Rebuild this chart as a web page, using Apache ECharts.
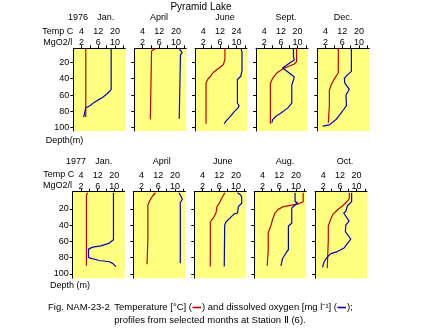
<!DOCTYPE html>
<html><head><meta charset="utf-8">
<script src="https://cdn.jsdelivr.net/npm/echarts@6/dist/echarts.min.js"></script>
<style>html,body{margin:0;padding:0;background:#fff}#c{width:422px;height:333px}</style>
</head><body><div id="c"></div>
<script>
// ---- data: [value, depth(m)] ----
const months1976 = ['Jan.', 'April', 'June', 'Sept.', 'Dec.'];
const months1977 = ['Jan.', 'April', 'June', 'Aug.', 'Oct.'];
const tempTicks = [4, 12, 20];
const tempTickLabels = ['4', '12', '20'];
const tempTickLabelsJune1976 = ['4', '12', '24'];
const o2Ticks = [2, 6, 10];
const o2MinorTicks = [2, 4, 6, 8, 10, 12];
const depthTicks = [20, 40, 60, 80, 100];

const tempJan1976 = [[6,3],[6,87]];
const o2Jan1976 = [[9.1,3],[9.1,53],[8.6,56],[8.0,59],[7.0,63],[6.3,65],[5.0,69],[4.0,73],[3.0,75.5],[2.6,77],[2.5,87]];
const tempApr1976 = [[10.1,3],[9.5,4.5],[8.3,6],[7.7,7],[7.7,90]];
const o2Apr1976 = [[10.8,3],[11.2,5],[11.5,8],[11.1,10.5],[10.8,12.5],[10.8,89]];
const tempJun1976 = [[14.4,3],[14.4,16],[13.6,17],[13.6,23],[12,26],[10,30],[8.5,33],[7.5,37],[6.3,40],[5.3,45],[5.3,95]];
const o2Jun1976 = [[11.1,3],[11.3,8],[11.3,30],[11.0,37],[10.2,41],[10.2,70],[10.6,73],[10.3,76],[9.5,80],[8.5,86],[7.6,91],[7.0,95]];
const tempSep1976 = [[19.5,3],[19.5,19],[18.4,22],[15.5,25],[12.8,28],[10,33],[8,39.5],[6.9,46],[6.9,95]];
const o2Sep1976 = [[9.0,3],[9.0,13],[9.2,17],[8.0,21],[6.4,27],[7.2,30],[8.0,33],[9.2,38],[8.6,48],[8.6,70],[7.6,76],[6.0,82],[4.8,86],[4.0,90],[3.8,94]];
const tempDec1976 = [[10.1,3],[10.1,33],[9,37],[7.8,42],[6.6,48],[5.8,54],[5.8,73],[5.3,75],[5.3,94]];
const o2Dec1976 = [[8.2,3],[8.2,31],[7.3,35],[6.5,39.5],[6.6,45],[7.7,53],[6.9,60],[7.0,73],[6.3,78],[5.7,82],[4.5,90],[2.9,96.5],[1.3,98]];

const tempJan1977 = [[7.2,0],[6.6,3],[6.6,90]];
const o2Jan1977 = [[9.8,0],[9.8,58],[8.8,62],[6.8,65.5],[4.8,67],[3.8,69.5],[3.8,80],[4.2,81.5],[6.4,83.5],[8.8,85],[9.6,87],[10.4,91]];
const tempApr1977 = [[10.6,0],[10.1,1.5],[9.3,4],[8.5,7],[7.7,11],[7.0,15],[7.0,58],[6.6,60],[6.6,88]];
const o2Apr1977 = [[11.0,0],[11.4,4],[11.8,8],[11.3,12],[11.3,87]];
const tempJun1977 = [[14.7,0],[13.1,7],[12,13],[10.9,17],[10.4,25],[9.6,29],[8.5,33],[7.7,36],[7.7,91]];
const o2Jun1977 = [[10.4,0],[11.2,3],[11.4,6],[11.4,13],[10.6,17],[10.4,25],[9.6,26],[8.8,30],[7.6,36],[7.3,40],[7.2,91]];
const tempAug1977 = [[23.5,0],[23.5,11],[20.8,14],[17.3,15.5],[14.1,17],[11.5,20.5],[9.9,25],[8.8,33],[8,40],[7.2,46],[6.7,49],[6.7,70],[6.2,72],[6.2,90]];
const o2Aug1977 = [[9.8,0],[9.8,11],[10.4,12],[9.6,16],[9.0,19],[9.0,37.5],[8.2,41],[8.2,70],[7.6,74.5],[6.8,81],[6.4,90]];
const tempOct1977 = [[16.5,0],[16.5,7],[15.7,10],[13.3,16],[10.9,21],[8.5,27],[7.4,33.5],[6.4,41],[6.4,58],[5.9,60],[5.9,93]];
const o2Oct1977 = [[8.8,0],[8.8,11],[7.8,16],[7.4,23],[6.9,25],[8.2,35],[7.4,40],[7.3,48],[8.6,57],[8.2,60],[7.0,68],[5.4,72.5],[3.8,75],[2.9,79.5],[2.2,85],[1.8,92]];

// ---- layout ----
const FONT = '"Liberation Sans", Arial, sans-serif';
const RED = '#c00000', BLUE = '#0000cc';
const rows = [
  { lefts: [73.3, 134.3, 195, 256, 317.3], top: 48.3, height: 82.7, dmin: 2.8, dmax: 104,
    temps: [tempJan1976, tempApr1976, tempJun1976, tempSep1976, tempDec1976],
    o2s: [o2Jan1976, o2Apr1976, o2Jun1976, o2Sep1976, o2Dec1976],
    tempLabels: [tempTickLabels, tempTickLabels, tempTickLabelsJune1976, tempTickLabels, tempTickLabels] },
  { lefts: [72.7, 133.3, 194.3, 254.3, 315], top: 191.7, height: 86.5, dmin: -1.3, dmax: 105.3,
    temps: [tempJan1977, tempApr1977, tempJun1977, tempAug1977, tempOct1977],
    o2s: [o2Jan1977, o2Apr1977, o2Jun1977, o2Aug1977, o2Oct1977],
    tempLabels: [tempTickLabels, tempTickLabels, tempTickLabels, tempTickLabels, tempTickLabels] }
];

const grid = [], xAxis = [], yAxis = [], series = [];
rows.forEach((row, r) => {
  row.lefts.forEach((left, c) => {
    const gi = grid.length;
    grid.push({ left: left, top: row.top, width: 52, height: row.height, show: true,
      backgroundColor: '#ffff80', borderWidth: 0, containLabel: false });
    const labels = row.tempLabels[c];
    xAxis.push({ type: 'value', gridIndex: gi, position: 'top', min: 0, max: 12.5,
      axisLine: { show: true, onZero: false, lineStyle: { color: '#000', width: 1 } },
      axisTick: { show: true, inside: false, length: 3, customValues: o2MinorTicks, lineStyle: { color: '#000' } },
      axisLabel: { show: true, customValues: o2Ticks, margin: 1, fontSize: 9, fontFamily: FONT, color: '#000' },
      splitLine: { show: false } });
    xAxis.push({ type: 'value', gridIndex: gi, position: 'top', offset: 11, min: 0, max: 25,
      axisLine: { show: false, onZero: false }, axisTick: { show: false },
      axisLabel: { show: true, customValues: tempTicks, margin: 1, fontSize: 9, fontFamily: FONT, color: '#000',
        formatter: v => { const k = tempTicks.indexOf(v); return k >= 0 ? labels[k] : ''; } },
      splitLine: { show: false } });
    yAxis.push({ type: 'value', gridIndex: gi, inverse: true, min: row.dmin, max: row.dmax,
      axisLine: { show: true, onZero: false, lineStyle: { color: '#000', width: 1 } },
      axisTick: { show: true, length: 3, customValues: depthTicks, lineStyle: { color: '#000' } },
      axisLabel: { show: c === 0, customValues: depthTicks, margin: 4, fontSize: 9, fontFamily: FONT, color: '#000' },
      splitLine: { show: false } });
    series.push({ type: 'line', xAxisIndex: 2 * gi + 1, yAxisIndex: gi, data: row.temps[c],
      symbol: 'none', lineStyle: { color: RED, width: 1.2 }, animation: false });
    series.push({ type: 'line', xAxisIndex: 2 * gi, yAxisIndex: gi, data: row.o2s[c],
      symbol: 'none', lineStyle: { color: BLUE, width: 1.2 }, animation: false });
  });
});

function txt(text, x, y, align, size, color) {
  return { type: 'text', x: x, y: y, silent: true,
    style: { text: text, fill: color || '#000', font: (size || 9) + 'px ' + FONT,
      align: align || 'left', verticalAlign: 'middle' } };
}
const graphics = [
  txt('Pyramid Lake', 201, 7.5, 'center', 10),
  txt('1976', 78, 17.7, 'center'),
  txt('Temp C', 42.3, 31.7), txt('MgO2/l', 43.3, 42.7), txt('Depth(m)', 45.7, 140.7),
  txt('1977', 76, 161.7, 'center'),
  txt('Temp C', 43.3, 175), txt('MgO2/l', 43, 186), txt('Depth (m)', 50, 286),
  txt('Fig. NAM-23-2', 48, 307.3, 'left', 9.5)
];
[105.7, 159, 225, 286, 343].forEach((x, i) => graphics.push(txt(months1976[i], x, 17.7, 'center')));
[103.7, 161.7, 222.7, 285, 345].forEach((x, i) => graphics.push(txt(months1977[i], x, 161.7, 'center')));

// caption line 1: text pieces with coloured legend dashes between them
const mctx = document.createElement('canvas').getContext('2d');
mctx.font = '9.5px ' + FONT;
const capPieces = [['Temperature [°C] (', null], [null, RED], [') and dissolved oxygen [mg l⁻¹] (', null], [null, BLUE], [');', null]];
let cx = 114.3;
const dashW = 9;
capPieces.forEach(p => {
  if (p[0]) {
    graphics.push(txt(p[0], cx, 307.3, 'left', 9.5));
    cx += mctx.measureText(p[0]).width;
  } else {
    graphics.push({ type: 'line', silent: true, shape: { x1: cx + 0.5, y1: 307.5, x2: cx + dashW, y2: 307.5 },
      style: { stroke: p[1], lineWidth: 1.6 } });
    cx += dashW + 1;
  }
});
graphics.push(txt('profiles from selected months at Station Ⅱ (6).', 114.3, 320, 'left', 9.5));

const chart = echarts.init(document.getElementById('c'), null, { renderer: 'canvas' });
chart.setOption({ backgroundColor: '#fff', animation: false, grid, xAxis, yAxis, series, graphic: graphics });
</script></body></html>
